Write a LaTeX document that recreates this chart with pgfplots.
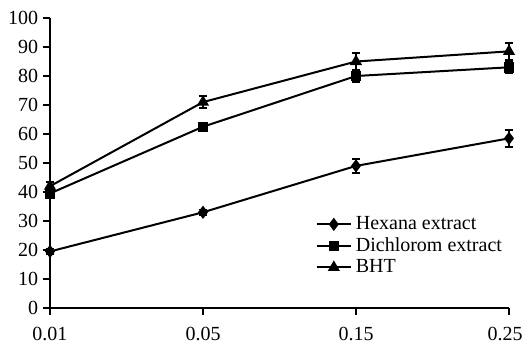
\documentclass[border=0pt]{standalone}
\usepackage{pgfplots}
\pgfplotsset{compat=1.18}
\usepackage{fontspec}
\setmainfont{Liberation Serif}
\begin{document}
\rmfamily\fontsize{10}{12}\selectfont
\begin{tikzpicture}
\begin{axis}[
  name=main,
  scale only axis,
  width=229.5pt, height=145pt,
  xmin=0, xmax=3, ymin=0, ymax=100,
  xtick={0,1,2,3}, xticklabels={0.01,0.05,0.15,\hspace*{-4pt}0.25},
  ytick={0,10,...,100},
  axis x line*=bottom, axis y line*=left,
  axis line style={line width=1.4pt},
  tick style={line width=1.3pt, black},
  tick align=outside, major tick length=3.6pt,
  /pgf/number format/assume math mode=true,
  ticklabel style={font=\rmfamily\fontsize{10}{12}\selectfont},
  yticklabel style={xshift=1.2pt},
  xticklabel style={yshift=-2.5pt},
  clip=false,
  legend style={draw=none, fill=none, at={(0.565,0.345)}, anchor=north west,
    font=\rmfamily\fontsize{10}{12}\selectfont, row sep=-1.5pt},
  legend cell align=left,
  error bars/error bar style={line width=0.9pt, black},
  error bars/error mark options={rotate=90, mark size=2.2pt, line width=0.9pt, black},
]
\addplot[black, line width=1pt, mark=diamond*, mark size=2.5pt, mark options={solid, fill=black}, error bars/.cd, y dir=both, y explicit]
  coordinates {(0,19.5) +- (0,1) (1,33) +- (0,1) (2,49) +- (0,2.5) (3,58.5) +- (0,3)};
\addlegendentry{Hexana extract}
\addplot[black, line width=1pt, mark=square*, mark size=2.1pt, mark options={solid, fill=black}, error bars/.cd, y dir=both, y explicit]
  coordinates {(0,39.5) +- (0,1.5) (1,62.5) +- (0,1.5) (2,80) +- (0,2) (3,83) +- (0,2)};
\addlegendentry{Dichlorom extract}
\addplot[black, line width=1pt, mark=triangle*, mark size=2.5pt, mark options={solid, fill=black}, error bars/.cd, y dir=both, y explicit]
  coordinates {(0,42) +- (0,1.5) (1,71) +- (0,2) (2,85) +- (0,3) (3,88.5) +- (0,3)};
\addlegendentry{BHT}
\end{axis}
\pgfresetboundingbox
\path ([shift={(-25pt,-17.5pt)}]main.south west) rectangle ([shift={(236.5pt,154pt)}]main.south west);
\end{tikzpicture}
\end{document}
